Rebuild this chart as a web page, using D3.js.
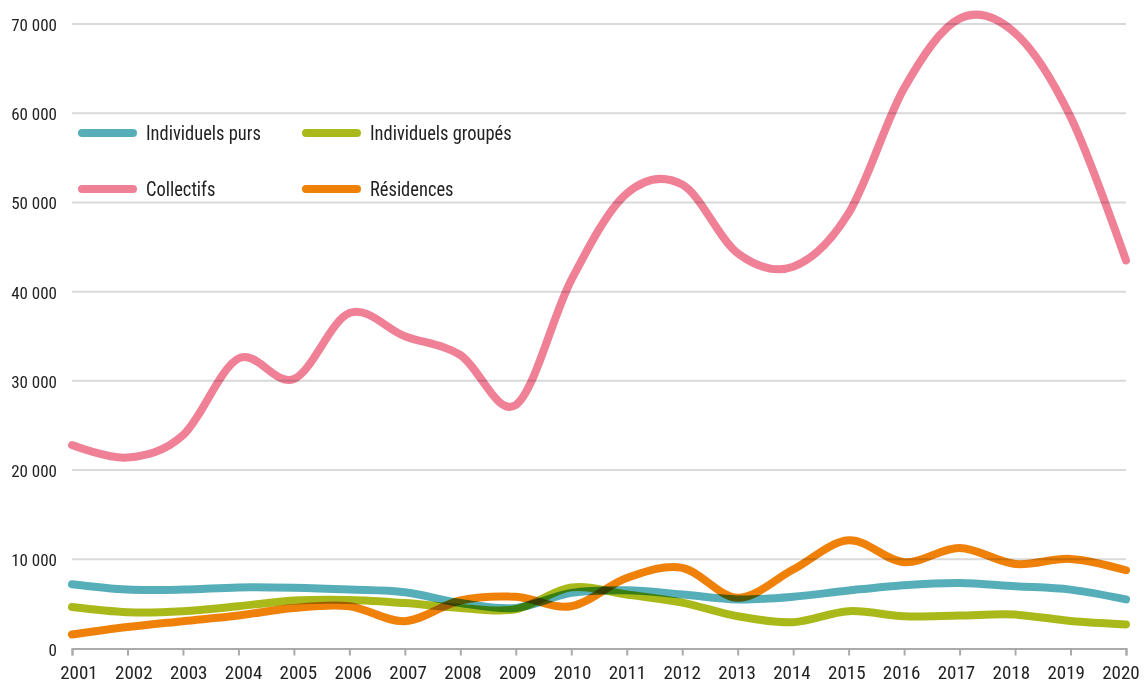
<!DOCTYPE html>
<html>
<head>
<meta charset="utf-8">
<script src="https://cdn.jsdelivr.net/npm/d3@7"></script>
<style>
  body { margin: 0; background: #fff; }
  svg text { font-family: "Liberation Sans Narrow", "Roboto Condensed", "Liberation Sans", sans-serif; fill: #222; }
  .line { fill: none; stroke-width: 8; stroke-linecap: round; mix-blend-mode: multiply; }
</style>
</head>
<body>
<svg id="chart" width="1146" height="686"></svg>
<script>
// years on the x axis
var years = [2001,2002,2003,2004,2005,2006,2007,2008,2009,2010,
             2011,2012,2013,2014,2015,2016,2017,2018,2019,2020];
// series
var individuelsPurs  = [7200,6600,6600,6850,6800,6600,6300,5100,4550,6230,
                        6530,6050,5500,5800,6500,7100,7350,6980,6600,5500];
var individuelsGroupes = [4650,4070,4180,4740,5380,5450,5100,4550,4400,6850,
                          6050,5150,3620,2950,4180,3620,3700,3800,3080,2700];
var collectifs = [22800,21400,23900,32500,30200,37600,35000,32900,27300,41300,
                  51000,52000,44300,42800,48800,62800,70600,69000,59600,43500];
var residences = [1570,2400,3060,3700,4550,4740,3060,5380,5790,4740,
                  7900,9040,5680,8850,12130,9670,11270,9480,10040,8770];
var yTicks = [0,10000,20000,30000,40000,50000,60000,70000];

var series = [
  {name:"Collectifs", values:collectifs, color:"#ef8096"},
  {name:"Individuels purs", values:individuelsPurs, color:"#56aeb8"},
  {name:"Individuels groupés", values:individuelsGroupes, color:"#a9b919"},
  {name:"Résidences", values:residences, color:"#ef8008"}
];
// legend order as in the picture
var legendItems = [
  {name:"Individuels purs", color:"#56aeb8", col:0, row:0},
  {name:"Individuels groupés", color:"#a9b919", col:1, row:0},
  {name:"Collectifs", color:"#ef8096", col:0, row:1},
  {name:"Résidences", color:"#ef8008", col:1, row:1}
];

var svg = d3.select("#chart");
var x = d3.scaleLinear().domain([2001,2020]).range([72,1126]);
// the year labels sit a little inside the ticks at both ends
var xLab = d3.scaleLinear().domain([2001,2020]).range([79,1121]);
var y = d3.scaleLinear().domain([0,70000]).range([648.5,24]);

function fmt(v){ return v === 0 ? "0" : d3.format(",")(v).replace(",", " "); }

// gridlines
svg.append("g").selectAll("line")
  .data(yTicks.filter(function(d){ return d > 0; }))
  .enter().append("line")
  .attr("x1", 72).attr("x2", 1126)
  .attr("y1", function(d){ return y(d); }).attr("y2", function(d){ return y(d); })
  .attr("stroke", "#d9d9d9").attr("stroke-width", 2);

// y labels
svg.append("g").selectAll("text")
  .data(yTicks)
  .enter().append("text")
  .attr("x", 57).attr("y", function(d){ return y(d) + 7; })
  .attr("text-anchor", "end")
  .style("font-size", "17px")
  .text(fmt);

// x axis
var xAxis = d3.axisBottom(x).tickValues(years).tickFormat("").tickSize(7);
var gx = svg.append("g").attr("transform", "translate(0," + y(0) + ")").call(xAxis);
gx.select(".domain").attr("stroke", "#aaa").attr("stroke-width", 2);
gx.selectAll(".tick line").attr("stroke", "#aaa").attr("stroke-width", 2);

svg.append("g").selectAll("text")
  .data(years)
  .enter().append("text")
  .attr("x", function(d){ return xLab(d); })
  .attr("y", 679)
  .attr("text-anchor", "middle")
  .style("font-size", "19px")
  .text(function(d){ return d; });

// lines
var line = d3.line()
  .x(function(d, i){ return x(years[i]); })
  .y(function(d){ return y(d); })
  .curve(d3.curveCardinal.tension(0));

svg.append("g").selectAll("path")
  .data(series)
  .enter().append("path")
  .attr("class", "line")
  .attr("stroke", function(d){ return d.color; })
  .attr("d", function(d){ return line(d.values); });

// legend
var lg = svg.append("g").selectAll("g")
  .data(legendItems)
  .enter().append("g")
  .attr("transform", function(d){ return "translate(" + (82 + d.col*224) + "," + (133 + d.row*56) + ")"; });
lg.append("line")
  .attr("x1", 0).attr("x2", 51)
  .attr("stroke", function(d){ return d.color; })
  .attr("stroke-width", 8).attr("stroke-linecap", "round");
lg.append("text")
  .attr("transform", "translate(64,7) scale(0.88,1)")
  .style("font-size", "21px")
  .text(function(d){ return d.name; });
</script>
</body>
</html>
